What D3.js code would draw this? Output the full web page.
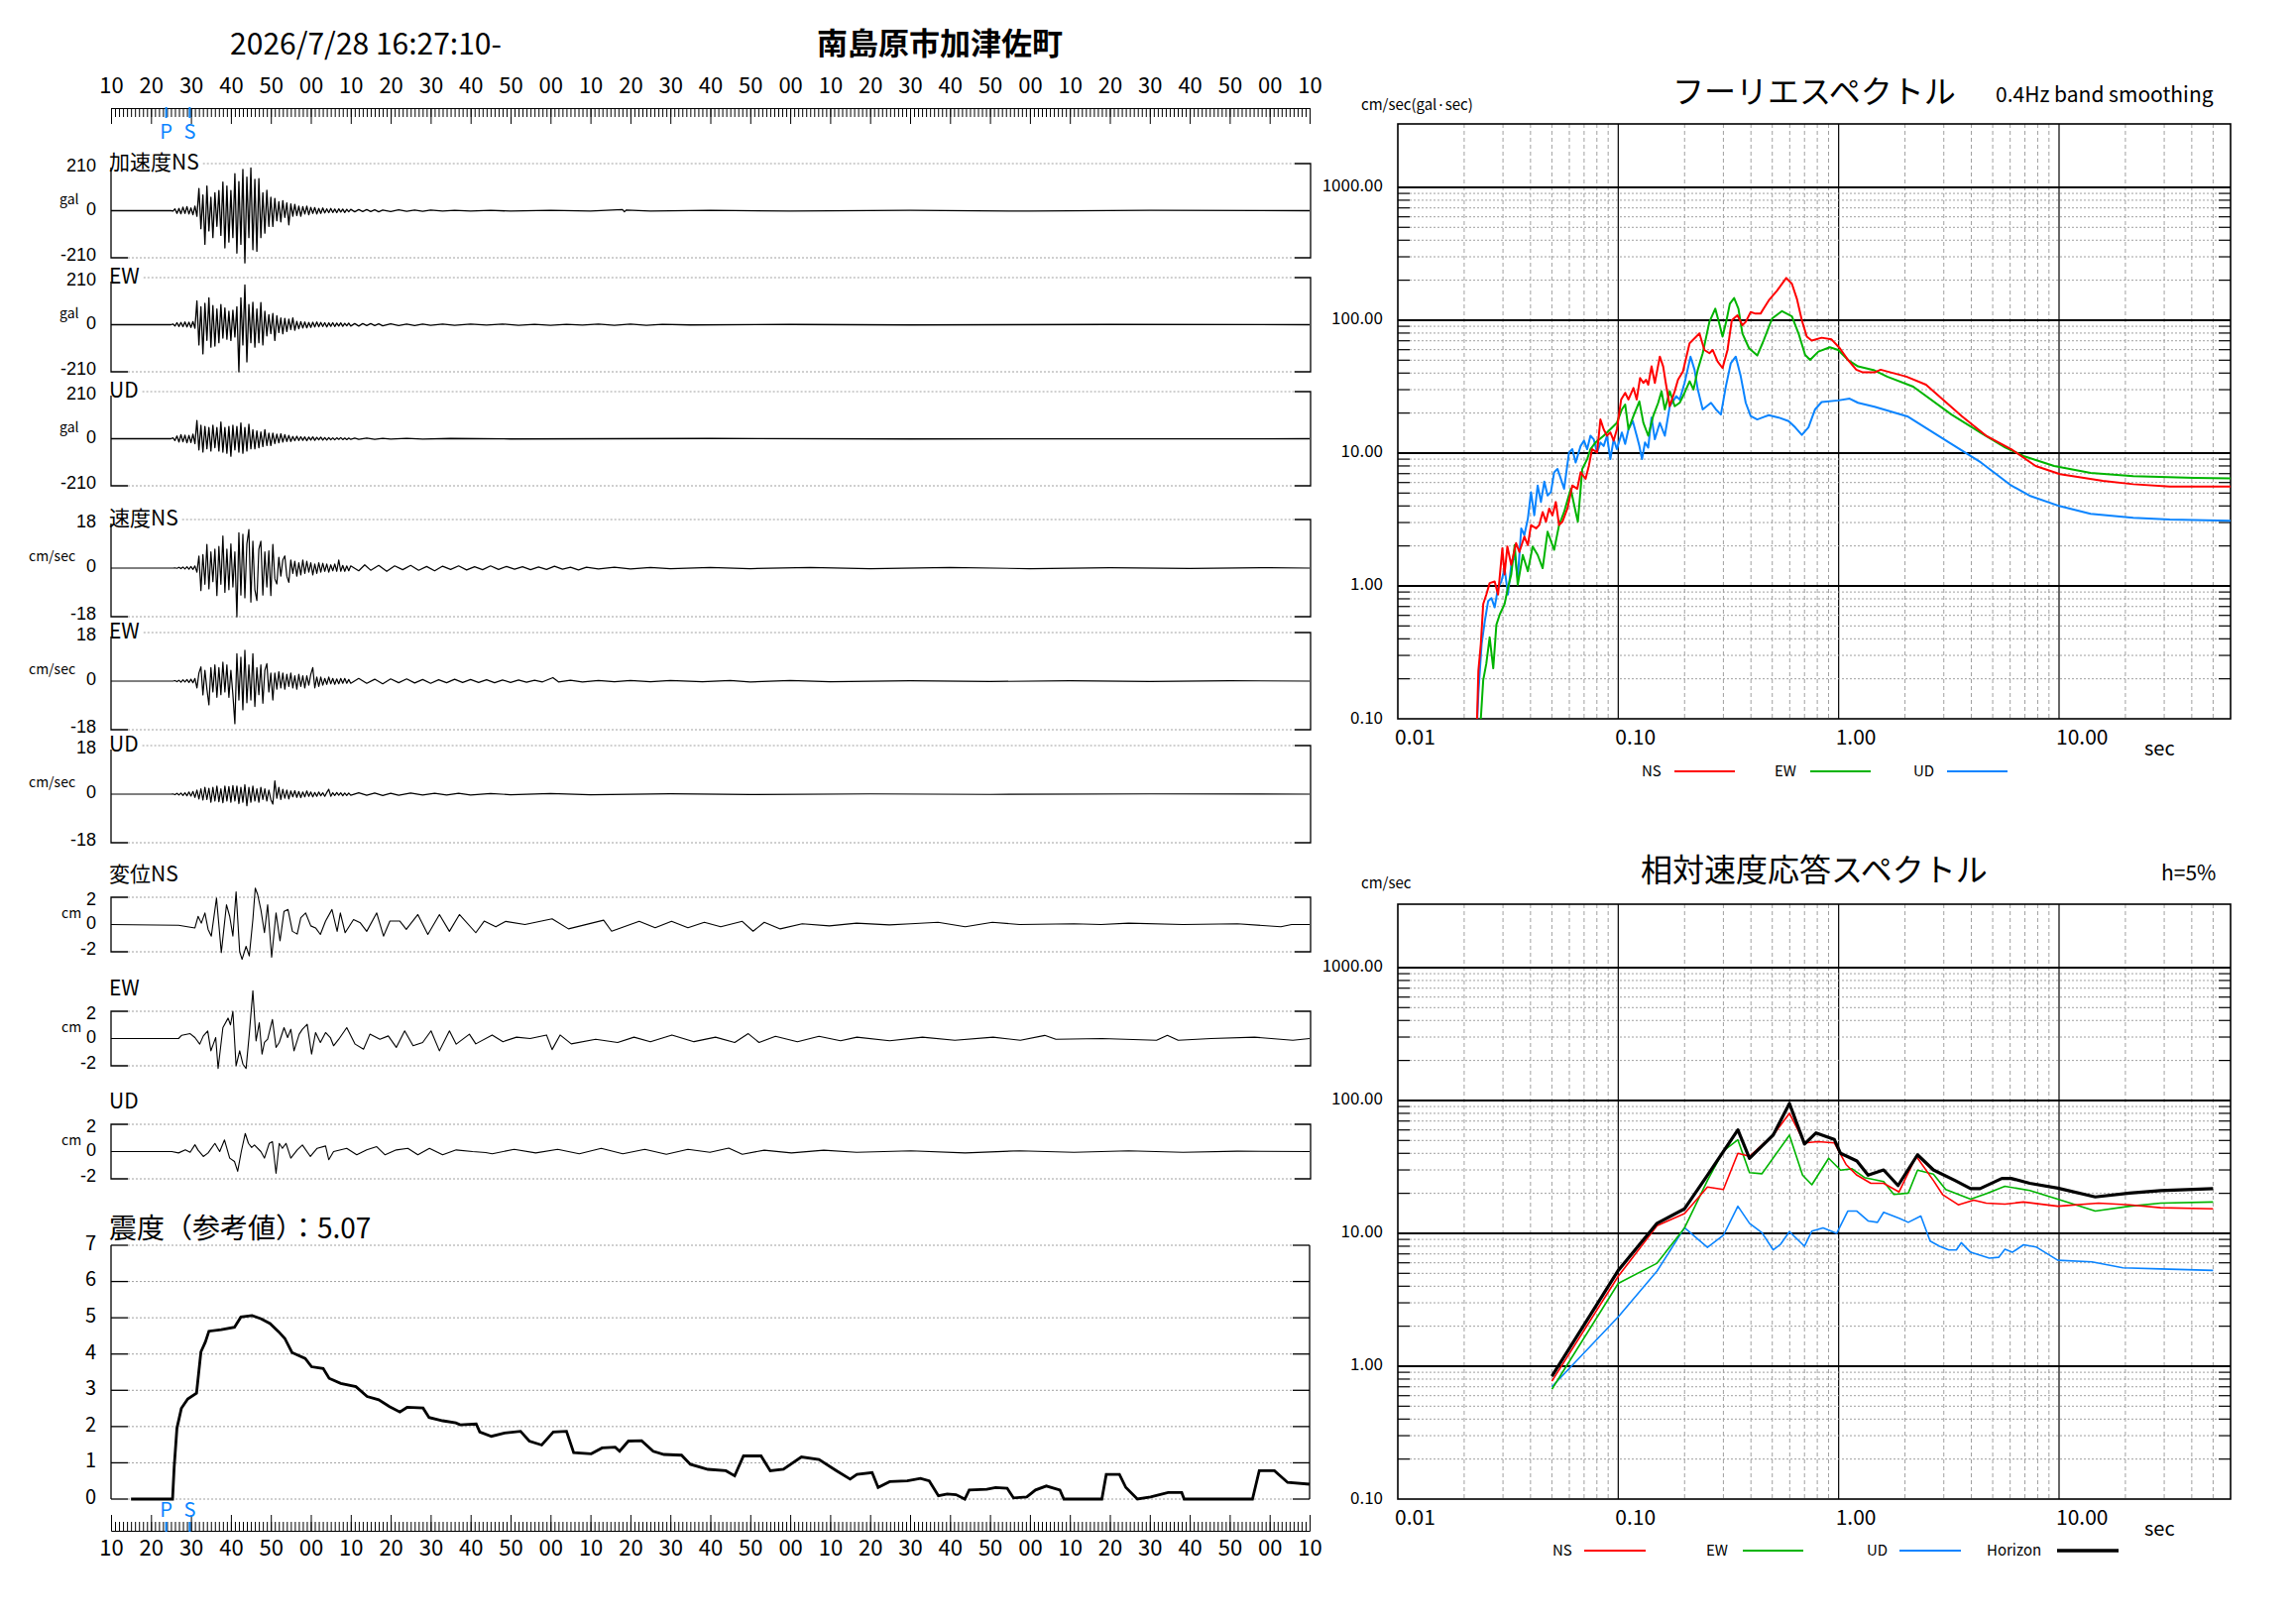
<!DOCTYPE html>
<html>
<head>
<meta charset="utf-8">
<script src="https://cdn.jsdelivr.net/npm/d3@7"></script>
<style>
  body { margin: 0; background: #fff; }
  svg { display: block; font-family: "Noto Sans CJK JP", "Noto Sans", sans-serif; }
</style>
</head>
<body>
<svg id="chart" width="2316" height="1637"></svg>
<script>
// ---------------- data ----------------
var titleTime = "2026/7/28 16:27:10-";
var stationName = "南島原市加津佐町";
var intensityTitle = "震度（参考値）：5.07";

var timeLabels = ["10","20","30","40","50","00","10","20","30","40","50","00","10","20","30","40","50","00",
                  "10","20","30","40","50","00","10","20","30","40","50","00","10"];
var phaseNames = ["P", "S"];
var phaseTimes = [13.8, 19.7];   // seconds after 16:27:10

// acceleration (gal), 0.5 s steps from t = 15 s to 60 s
var accNS = [0,-2,8,-12,10,-14,16,-12,18,-15,
  12,-18,20,-25,99,-80,70,-150,110,-90,
  60,-120,80,-70,90,-110,128,-166,110,-140,
  90,-120,165,-189,130,-150,184,-233,150,-120,
  190,-174,140,-181,143,-120,80,-100,91,-70,
  60,-70,55,-45,40,-50,45,-30,35,-63,
  30,-25,28,-22,20,-25,18,-15,20,-18,
  15,-12,14,-15,10,-12,12,-10,8,-9,
  10,-8,7,-9,8,-6,7,-8,6,-5,
  6];
var accEW = [0,3,-6,9,-8,10,-9,12,-10,11,
  -12,14,-16,106,-90,80,-130,95,-70,120,
  -100,85,-95,70,-80,90,-60,75,-65,60,
  -70,65,-55,80,-210,120,-90,177,-166,90,
  -80,100,-100,70,-80,99,-90,60,-50,45,
  -40,50,-70,40,-35,30,-40,28,-30,25,
  -22,30,-25,15,-18,14,-15,12,-14,10,
  -12,11,-10,12,-9,10,-8,9,-10,8,
  -7,9,-8,7,-6,8,-7,6,-5,7,
  -6];
var accUD = [0,4,-8,12,-15,18,-14,16,-18,15,
  -17,20,-22,81,-50,60,-59,55,-45,50,
  -55,60,-40,50,-55,74,-60,50,-65,55,
  -78,60,-50,55,-60,70,-65,50,-55,65,
  -45,40,-45,35,-40,30,-35,40,-30,25,
  -30,25,-22,20,-18,22,-15,18,-12,15,
  -12,10,-9,11,-8,9,-7,8,-9,7,
  -6,8,-7,6,-5,7,-6,5,-6,5,
  -5,4,-5,4,-3,5,-4,3,-4,3,
  -3];
// acceleration after 60 s: [t, gal]
var accNSTail = [[61,-5],[62,5],[63,-4],[64,5],[65,-4],[66,4],[67,-5],[68,3],[70,-4],[72,4],[74,-3],[76,3],[78,-3],[80,3],
  [83,-2],[86,2],[90,-2],[95,2],[100,-2],[110,2],[120,-2],[128,5],[128.5,-5],[129,3],[135,-2],[150,2],[170,-2],
  [200,2],[230,-2],[260,2],[300,0]];
var accEWTail = [[61,5],[62,-6],[63,5],[64,-4],[65,5],[66,-4],[67,4],[68,-5],[70,4],[72,-4],[74,3],[76,-4],[78,3],[80,-3],
  [83,3],[86,-3],[90,3],[94,-2],[98,3],[102,-3],[106,2],[110,-3],[114,2],[118,-2],[122,3],[126,-3],[130,3],[134,-3],
  [138,2],[145,-1],[170,1],[200,-1],[250,1],[300,0]];
var accUDTail = [[61,3],[62,-3],[64,3],[66,-3],[68,2],[70,-2],[74,2],[78,-2],[85,1],[100,-1],[150,1],[200,-1],[300,0]];

// velocity (cm/sec), 0.5 s steps from t = 15 s to 60 s
var velNS = [0,0,0.1,-0.1,0.3,-0.2,0.4,-0.3,0.5,-0.4,
  0.6,-0.5,0.8,-1.5,4.5,-8.3,5,-6,8.8,-7.7,
  6,-5,7,-10.2,8,-6,11.9,-9,7,-8,
  9,-7,6,-18.1,13.1,-10,12.5,-11,9,14.3,
  -12.6,10,-8,-12,7,10,-10,6,-7,6.4,
  -10.2,8.8,-4,-5.9,4,-3,3,4.5,-3,-5.3,
  3,-2,2.5,-3,2,-2.5,3,-2,2.5,-1.5,
  2,-2.5,1.5,-2,2,-1.5,1.8,-1.2,1.5,-1.5,
  1.2,-1,1.5,-1.2,3,-1.2,1,-1.2,0.8,-1,
  0.8];
var velEW = [0,0,0.2,-0.2,0.3,-0.4,0.5,-0.3,0.6,-0.5,
  0.7,-0.6,1,-2.5,3,5.3,-5.1,4,-3,-8.8,
  5,-4,6,-6,5,-5,7,-4,6,-6,
  4,-5,-15.8,10.2,-7,8.9,-10.6,11.4,-8,6,
  -7,10.2,-9.4,5,-5,6,-8.2,4,6.5,-4,
  3,-7,3,-3,3.5,-2.5,3,-3,2.5,-2,
  3,-2.5,2,-3,2.5,-2,2,-2.5,2,-1.5,
  2.5,5,-2.5,1.5,-2,1.5,-1.5,1,-1.2,1.5,
  -1,1,-1.2,0.8,-1,1,-0.8,1,-0.8,0.6,
  -0.8];
var velUD = [0,0.1,-0.2,0.3,-0.3,0.4,-0.5,0.5,-0.6,0.8,
  -0.7,1,-1.2,1.5,-1.8,2,-2.2,2.5,-2,2.2,
  -3,2.5,-2.5,3,-2.8,2,-3.2,3,-2.5,2.8,
  -3,3.2,-2.5,3,-3.5,2.5,-3,3.5,-4.3,2.5,
  -3,3,-2.5,2,-3,2.5,-2,2,-2.5,1.5,
  -2,-3.7,4.9,-1.5,2.5,-2,1.8,-1.5,1.5,-1.8,
  1.2,-1,1.3,-1.2,1,-1.3,0.8,-1,1.2,-0.8,
  0.8,-1,0.6,-0.8,0.8,-0.6,0.5,-0.8,0.6,1.8,
  -0.8,0.5,-0.5,0.6,-0.4,0.5,-0.6,0.4,-0.5,0.4,
  -0.4];
var velNSTail = [[62,-1],[63.5,1.2],[65,-0.8],[67,1],[69,-1.2],[71,0.8],[73,-0.6],[75,1],[77,-0.8],[79,0.6],[81,-1],
  [83,0.7],[85,-0.5],[87,0.8],[89,-0.7],[91,0.5],[93,-0.6],[95,0.8],[97,-0.5],[99,0.6],[101,-0.4],[103,0.5],
  [105,-0.6],[107,0.4],[109,-0.5],[111,0.7],[113,-0.4],[115,0.3],[117,-0.7],[119,0.3],[122,-0.3],[126,0.3],
  [130,-0.3],[135,0.2],[140,-0.2],[150,0.2],[160,-0.2],[175,0.2],[190,-0.2],[210,0.2],[230,-0.2],[250,0.15],
  [270,-0.15],[290,0.15],[300,0]];
var velEWTail = [[62,1],[64,-0.8],[66,0.7],[68,-1],[70,0.8],[72,-0.6],[74,0.8],[76,-0.7],[78,0.6],[80,-0.8],[82,0.5],
  [84,-0.6],[86,0.7],[88,-0.5],[90,0.6],[92,-0.5],[94,0.5],[96,-0.6],[98,0.4],[100,-0.5],[102,0.4],[104,-0.4],
  [106,0.3],[108,-0.3],[110.6,1.3],[112,-0.3],[115,0.3],[118,-0.3],[122,0.2],[126,-0.2],[130,0.2],[135,-0.2],
  [140,0.2],[148,-0.2],[155,0.2],[160,-0.3],[170,0.2],[180,-0.2],[200,0.15],[220,-0.15],[240,0.15],[260,-0.15],
  [280,0.15],[300,0]];
var velUDTail = [[62,0.5],[64,-0.4],[66,0.4],[68,-0.5],[70,0.3],[72,-0.4],[75,0.4],[78,-0.3],[81,0.3],[84,-0.3],
  [87,0.3],[90,-0.3],[95,0.2],[100,-0.2],[110,0.2],[120,-0.2],[140,0.15],[160,-0.15],[190,0.1],[220,-0.1],
  [260,0.1],[300,0]];

// displacement (cm): [t, cm]
var dispNS = [[0,0],[16.9,-0.05],[21,-0.25],[21.8,0.6],[22.6,0.1],[23.5,0.85],[24.3,-0.36],[25.1,-0.85],[26.4,1.94],
  [27.6,-2.06],[28.9,1.45],[29.7,0.6],[30.5,-0.85],[31.3,2.4],[32.2,-2.0],[32.8,-2.55],[33.8,-1.6],[34.6,-2.3],
  [35.5,0.36],[36.1,2.67],[36.7,2.2],[37.5,1.1],[38.4,-0.6],[39.2,1.45],[40.2,-2.4],[41.3,0.85],[42.3,-1.2],
  [43.3,0.97],[44.3,1.1],[45.4,-0.5],[46.6,-0.7],[47.5,0.5],[48.7,0.85],[50,-0.1],[51.2,-0.25],[52.4,-0.73],
  [53.7,0.25],[55.3,1.1],[56.6,-0.5],[57.4,0.85],[58.6,-0.6],[60.7,0.36],[62.4,0.12],[64,-0.5],[66.5,0.85],
  [68.2,-0.85],[69.8,0.25],[72.3,0.25],[73.9,-0.36],[76.8,0.73],[79.3,-0.73],[82.2,0.73],[84.7,-0.5],[87.2,0.73],
  [91.3,-0.6],[93.4,0.25],[96.3,-0.17],[98.8,0.23],[103.6,0],[110.4,0.42],[114.5,-0.32],[123.3,0.32],[125.3,-0.49],
  [132.2,0.23],[136.2,-0.23],[140.3,0.23],[144.4,-0.23],[148.5,0.16],[152.6,-0.16],[158,0.23],[160.7,-0.49],
  [163.5,0.16],[167.5,-0.32],[173,0.06],[179.8,-0.1],[186.6,0.1],[194.8,-0.03],[200.2,0.06],[207,0.16],
  [213.8,-0.16],[220.6,0.16],[227.4,0],[241,0.06],[247.8,0],[254.7,0.1],[268.3,0],[281.9,0.06],[292.8,-0.16],
  [295.5,0],[300,0]];
var dispEW = [[0,0],[16.9,0],[17.7,0.24],[19.8,0.36],[21,0.07],[22.2,-0.41],[23.1,0.19],[24.2,0.56],[25,-0.9],
  [25.6,-0.41],[26.2,0.07],[26.8,-2.2],[28,0.8],[29.3,1.5],[29.9,1.0],[30.5,2.0],[31.3,-2.0],[32.2,-0.9],[33,-1.87],
  [33.8,-2.2],[34.6,0.32],[35.5,3.5],[36.3,-0.17],[37.1,1.16],[37.8,-1.14],[38.4,-0.29],[39.2,-0.05],[40.4,1.4],
  [41.3,-0.65],[42.1,-0.29],[43.3,0.8],[44.2,0.07],[45,0.68],[45.8,-0.9],[47.1,0.32],[47.9,0.68],[49.1,1.04],
  [50.2,-1.14],[51.2,0.44],[52.4,-0.29],[53.7,0.44],[54.9,0.07],[55.7,-0.53],[57,-0.05],[59,0.8],[61.1,-0.41],
  [63.2,-0.78],[64.8,0.32],[67.3,-0.05],[69.4,0.19],[71.4,-0.65],[73.5,0.56],[75.6,-0.53],[78,-0.29],[80.1,0.56],
  [82.2,-0.9],[84.7,0.56],[86.4,-0.41],[89.7,0.32],[91.3,-0.39],[95.4,0.26],[98.1,-0.23],[101.5,0.1],[104.9,0],
  [109,0.26],[110.4,-0.81],[112.4,0.26],[115.2,-0.39],[121.3,-0.06],[126.8,-0.29],[130.9,0.1],[135,-0.23],
  [140.4,0.26],[145.9,-0.23],[151.3,0.1],[156.1,-0.29],[159.5,0.36],[162.2,-0.29],[166.3,0.16],[171.8,-0.23],
  [177.2,0.16],[182.6,-0.16],[186.7,0.1],[194.9,-0.16],[203.1,0.1],[211.2,-0.13],[220.8,0.1],[227.6,-0.13],
  [233.7,0.23],[236.5,-0.06],[248,0],[261.7,-0.13],[264.4,0.23],[267.1,-0.13],[275.3,0],[286.2,0.1],[295.8,-0.13],
  [300,0]];
var dispUD = [[0,0],[15.2,0],[16.9,-0.1],[18.6,0.12],[19.8,-0.05],[21,0.5],[21.8,0.1],[23.1,-0.36],[24.3,-0.1],
  [26,0.6],[27.2,0],[28.4,0.85],[29.7,-0.48],[30.9,-0.73],[31.7,-1.45],[32.6,0],[33.6,1.33],[34.4,0.6],[35.2,0.3],
  [35.9,0.48],[37.5,0],[38.4,-0.48],[39.6,0.6],[40.4,0.73],[41.3,-1.6],[42.1,0.6],[42.9,0.24],[43.8,0.6],
  [45,-0.48],[46.6,0.12],[47.9,0.48],[49.9,-0.36],[51.6,0.24],[53.7,0.41],[54.5,-0.6],[55.7,0],[59,0.24],
  [61.5,-0.24],[64,0.12],[66.5,0.36],[68.6,-0.24],[71.4,0.12],[74.3,0.24],[76.8,-0.24],[79.7,0.24],[83,-0.24],
  [86.4,0.12],[90.5,0],[93.8,-0.07],[95.4,-0.16],[100.9,0.16],[106.3,-0.1],[111.8,0.16],[117.2,-0.16],[122.7,0.23],
  [128.1,-0.16],[133.6,0.16],[139,-0.2],[144.4,0.16],[149.9,-0.06],[154.6,0.26],[158,-0.2],[163.5,0.1],
  [170.3,-0.1],[178.4,0.1],[186.6,-0.06],[200.2,0.06],[213.8,-0.1],[227.4,0.06],[241,-0.06],[254.7,0.06],
  [268.3,-0.06],[281.9,0.03],[300,0]];

var accTicks = [210, 0, -210];
var velTicks = [18, 0, -18];
var dispTicks = [2, 0, -2];

// seismic intensity (reference value): [t, intensity]
var intensity = [[5,0],[15.4,0],[15.8,0.87],[16.5,1.96],[17.6,2.5],[19.2,2.76],[21.4,2.92],[22.5,4.06],[23.6,4.33],
  [24.5,4.63],[27.6,4.67],[30.9,4.74],[32.5,5.02],[35.3,5.06],[37.6,4.97],[39.8,4.84],[42,4.61],[43.5,4.43],
  [45.3,4.04],[48.6,3.88],[50.2,3.65],[53.1,3.6],[54.6,3.33],[57.5,3.19],[61.3,3.1],[64.1,2.83],[67,2.74],
  [69.7,2.55],[72.3,2.4],[74.1,2.53],[78.1,2.51],[79.6,2.25],[83,2.16],[86.3,2.1],[87.4,2.05],[91.4,2.07],
  [92.3,1.85],[95.2,1.73],[98.5,1.82],[102.5,1.87],[104.7,1.6],[107.8,1.49],[110.7,1.85],[114,1.87],[115.8,1.28],
  [120.2,1.25],[122.9,1.41],[126.2,1.43],[127.3,1.32],[129.5,1.6],[132.8,1.61],[135.7,1.32],[138.4,1.23],
  [142.8,1.21],[145,0.96],[149.4,0.82],[153.9,0.78],[156.1,0.64],[158.3,1.19],[162.7,1.19],[165,0.78],
  [168.3,0.82],[172.8,1.16],[177.2,1.09],[181.6,0.78],[185,0.55],[186.7,0.68],[190.5,0.73],[192,0.32],
  [194.9,0.48],[199.3,0.5],[202.6,0.57],[204.8,0.5],[207.1,0.09],[209.3,0.14],[211.5,0.12],[213.7,0],[214.8,0.25],
  [219.2,0.27],[221.4,0.32],[224.3,0.3],[225.9,0.03],[229.2,0.06],[231.4,0.25],[234.1,0.36],[237.5,0.25],
  [238.5,0],[248,0],[249.1,0.68],[252.4,0.68],[254,0.32],[256.9,0],[260.2,0.06],[262.4,0.12],[264.6,0.18],
  [268,0.18],[268.6,0],[285.7,0],[287.4,0.78],[291.2,0.78],[294.5,0.46],[300,0.41]];
var intensityTicks = [0, 1, 2, 3, 4, 5, 6, 7];

// Fourier spectrum: [period sec, cm/sec]
var fourierNS = [[0.0228,0.08],[0.0232,0.23],[0.0238,0.365],[0.0244,0.73],[0.0252,0.86],[0.0261,1.05],[0.0275,1.08],
  [0.0285,0.86],[0.0298,1.92],[0.0305,1.22],[0.0314,1.98],[0.0327,1.44],[0.0344,2.1],[0.0356,1.8],[0.0375,2.35],
  [0.0389,2.03],[0.0402,2.87],[0.0424,2.71],[0.0438,2.87],[0.0454,3.6],[0.0470,3.04],[0.0486,3.82],[0.0503,3.4],
  [0.0521,4.28],[0.0539,2.87],[0.0558,3.04],[0.0588,3.82],[0.0619,5.7],[0.0652,5.38],[0.0675,7.17],[0.0711,6.4],
  [0.0736,8.04],[0.0761,10.7],[0.0802,10.1],[0.0830,17.9],[0.0859,15.1],[0.0889,13.5],[0.0921,14.3],[0.0953,12.4],
  [0.0986,15.1],[0.1031,25.3],[0.1075,28.4],[0.1113,25.3],[0.1172,30.9],[0.1213,25.3],[0.1256,36.7],[0.1300,33.7],
  [0.1336,35.6],[0.1368,32.7],[0.1416,44.9],[0.1466,33.7],[0.1544,53.2],[0.1599,44.9],[0.1643,33.7],[0.1713,22.5],
  [0.1804,29.2],[0.1867,35.6],[0.1966,41.1],[0.2107,67],[0.2219,73],[0.2336,79.5],[0.2460,59.7],[0.2592,56.4],
  [0.2682,59.7],[0.2824,48.9],[0.2974,43.6],[0.3132,59.7],[0.3276,100],[0.3474,109],[0.3659,91.8],[0.3788,97.2],
  [0.3989,115],[0.4200,112],[0.4422,112],[0.4821,141],[0.5256,167],[0.5786,208],[0.6138,188],[0.6464,145],
  [0.6808,100],[0.7169,75.2],[0.7551,70.2],[0.8372,73.8],[0.9286,71.7],[1.012,61.5],[1.103,50.2],[1.202,42.4],
  [1.289,40.5],[1.454,40.5],[1.55,42.4],[2.03,37.6],[2.49,32.7],[3.63,18.9],[4.7,13.4],[6.07,10.7],[7.83,8],
  [10.1,6.93],[15.8,6.18],[21.7,5.83],[31.8,5.6],[60,5.6]];
var fourierEW = [[0.0236,0.08],[0.0244,0.195],[0.0252,0.26],[0.0261,0.41],[0.0271,0.24],[0.0280,0.51],[0.0290,0.61],
  [0.0305,0.73],[0.0316,0.97],[0.0327,1.22],[0.0339,2.03],[0.0350,1.02],[0.0369,1.71],[0.0389,1.29],[0.0409,1.98],
  [0.0431,1.71],[0.0454,1.36],[0.0478,2.56],[0.0512,1.87],[0.0539,2.87],[0.0568,3.6],[0.0609,5.38],[0.0641,3.6],
  [0.0656,3.04],[0.0687,7.6],[0.0723,9.0],[0.0748,10.7],[0.0788,12],[0.0859,13.5],[0.0921,15.1],[0.0986,16.9],
  [0.1039,21.3],[0.1075,23.2],[0.1113,15.1],[0.1172,19],[0.1247,24.5],[0.1300,16.9],[0.1368,13.5],[0.1441,19],
  [0.1518,23.9],[0.1572,29.2],[0.1627,21.3],[0.1713,29.2],[0.1804,22.5],[0.1900,23.9],[0.2000,28.4],[0.2107,34.7],
  [0.2196,30.1],[0.2296,42.4],[0.2417,56.4],[0.2592,97.2],[0.2756,122],[0.2873,94.4],[0.2974,75.2],[0.3100,100],
  [0.3209,133],[0.3356,147],[0.3510,122],[0.3659,79.5],[0.3921,61.5],[0.4273,54.2],[0.4577,70.9],[0.4991,103],
  [0.5535,117],[0.6138,107],[0.6577,79.5],[0.7048,54.8],[0.7422,50.2],[0.8091,58],[0.9126,62.5],[0.9949,59.7],
  [1.103,50.2],[1.224,44.9],[1.454,41.9],[1.66,37.6],[2.18,31.6],[3.25,19.5],[4.42,14.2],[5.7,11],[6.9,9.5],
  [9.5,8],[13.9,7.1],[21.7,6.7],[41.1,6.5],[60,6.45]];
var fourierUD = [[0.0228,0.08],[0.0232,0.155],[0.0236,0.24],[0.0240,0.365],[0.0248,0.54],[0.0257,0.77],[0.0266,0.81],
  [0.0275,0.69],[0.0285,0.97],[0.0295,1.08],[0.0305,1.36],[0.0316,0.86],[0.0327,1.44],[0.0339,1.71],[0.0350,1.14],
  [0.0363,2.71],[0.0375,2.41],[0.0389,3.21],[0.0402,5.08],[0.0416,3.4],[0.0431,5.7],[0.0446,4.28],[0.0462,6.1],
  [0.0478,4.8],[0.0495,5.08],[0.0512,7.17],[0.0530,7.6],[0.0549,6.4],[0.0568,5.38],[0.0598,10.1],[0.0619,10.7],
  [0.0641,8.5],[0.0675,11.3],[0.0699,12.4],[0.0723,10.7],[0.0748,13.5],[0.0774,12.7],[0.0802,10.1],[0.0830,12],
  [0.0859,11.3],[0.0889,13.5],[0.0921,9.0],[0.0953,12.7],[0.0986,10.7],[0.1039,14.3],[0.1075,11.7],[0.1113,15.1],
  [0.1164,17.4],[0.1213,13.5],[0.1247,11.3],[0.1282,9.0],[0.1322,12],[0.1368,11],[0.1416,18.5],[0.1466,12.7],
  [0.1544,16.9],[0.1627,13.5],[0.1713,22.5],[0.1835,26.8],[0.1900,25.3],[0.2000,33.7],[0.2128,53.2],[0.2219,42.4],
  [0.2296,30.1],[0.2417,21.3],[0.2636,23.9],[0.2775,21.3],[0.2923,19.5],[0.3079,31.8],[0.3242,47.5],[0.3414,53.2],
  [0.3596,37.8],[0.3788,23.9],[0.3989,19],[0.4273,17.9],[0.4821,19.3],[0.5347,18.5],[0.5929,17.4],[0.6353,15.6],
  [0.6808,13.7],[0.7295,15.6],[0.7816,21.3],[0.8372,24.2],[0.9949,24.9],[1.122,25.7],[1.224,23.9],[1.454,22.3],
  [2.05,18.9],[3.2,11.9],[4.42,8.5],[6.07,5.7],[7.35,4.78],[10.1,3.98],[13.9,3.49],[21.7,3.26],[31.8,3.16],[60,3.1]];

// relative velocity response spectrum (h=5%)
var rsPeriodNS = [0.05,0.1,0.15,0.2,0.254,0.3,0.349,0.394,0.505,0.598,0.70,0.807,0.955,1.08,1.21,1.40,1.60,1.88,
  2.25,2.69,2.96,3.49,4.10,4.67,5.68,6.90,9.87,15.1,20.9,28.9,50];
var rsNS = [0.77,4.75,11.4,14.1,22.3,21.4,40,38,55,80,48,49,48,33,27.4,23.8,23.8,20.5,38,25,19.6,16.4,17.8,16.9,
  16.6,17.2,16,16.9,16.4,15.6,15.3];
var rsPeriodEW = [0.05,0.1,0.15,0.2,0.254,0.3,0.349,0.394,0.449,0.598,0.686,0.756,0.901,1.02,1.15,1.31,1.60,1.78,
  2.07,2.28,2.69,3.06,3.97,4.67,5.68,7.36,9.87,14.6,20.9,28.9,50];
var rsEW = [0.67,4.2,5.96,11,25,41.7,50.5,28.6,28.1,54.8,27.4,23.2,36.7,29.9,30.6,26.3,24.5,19.6,20.1,29.9,27.9,
  21.4,18.1,19.9,22.6,21,18.1,14.7,16,16.9,17.2];
var rsPeriodUD = [0.05,0.1,0.15,0.2,0.254,0.3,0.349,0.394,0.449,0.505,0.546,0.598,0.70,0.756,0.85,0.98,1.10,1.21,
  1.36,1.50,1.60,1.88,2.07,2.36,2.60,2.87,3.16,3.42,3.60,3.97,4.83,5.32,5.68,6.14,6.90,7.86,9.87,14.1,19.5,28.9,50];
var rsUD = [0.70,2.35,5.2,11,7.85,9.66,16,11.9,10.1,7.5,8.3,10.3,8,10.4,11,10,14.7,14.7,12.4,12.1,14.4,13,12.1,
  13.5,8.75,8,7.5,7.5,8.5,7.2,6.5,6.6,7.6,7.2,8.2,7.9,6.27,6.1,5.5,5.4,5.26];
var rsPeriodH = [0.05,0.1,0.15,0.2,0.254,0.349,0.394,0.505,0.598,0.70,0.79,0.955,1.02,1.21,1.36,1.60,1.86,2.28,
  2.69,3.37,3.97,4.38,5.50,6.06,7.36,9.87,14.6,20.9,28.9,50];
var rsH = [0.84,5.26,11.9,15.3,27.4,60,36.7,55,95,47,57,51,40,35,27.4,30,22.9,39,30,25,21.7,21.7,25.9,25.9,23.8,
  21.9,18.8,20.1,21,21.7];

var specYTicks = [1000, 100, 10, 1, 0.1];
var specYLabels = ["1000.00", "100.00", "10.00", "1.00", "0.10"];
var specXTicks = [0.01, 0.1, 1, 10];
var specXLabels = ["0.01", "0.10", "1.00", "10.00"];

// ---------------- drawing ----------------
var svg = d3.select("#chart");
var FONT = '"Noto Sans CJK JP","Noto Sans",sans-serif';
var NUMFONT = '"Liberation Sans","Noto Sans",sans-serif';
var red = "#ff0000", green = "#00b400", blue = "#0a84ff", gridGray = "#a0a0a0";

function addText(g, x, y, s, size, anchor, color, weight) {
  return g.append("text")
    .attr("x", x).attr("y", y)
    .attr("font-size", size)
    .attr("text-anchor", anchor || "start")
    .attr("dominant-baseline", "central")
    .attr("fill", color || "#000")
    .attr("font-weight", weight || "normal")
    .text(s);
}
function hline(g, x1, x2, y, color, w, dash) {
  return g.append("line").attr("x1", x1).attr("x2", x2).attr("y1", y).attr("y2", y)
    .attr("stroke", color).attr("stroke-width", w).attr("stroke-dasharray", dash || null);
}
function vline(g, x, y1, y2, color, w, dash) {
  return g.append("line").attr("x1", x).attr("x2", x).attr("y1", y1).attr("y2", y2)
    .attr("stroke", color).attr("stroke-width", w).attr("stroke-dasharray", dash || null);
}

// headline
addText(svg, 369, 42, titleTime, 30, "middle");
addText(svg, 948, 41, stationName, 31, "middle", "#000", "bold");

var x = d3.scaleLinear().domain([0, 300]).range([112, 1321]);

// time rulers (top and bottom)
function ruler(y, dir) {
  var g = svg.append("g").attr("transform", "translate(0," + y + ")");
  var axisFn = dir > 0 ? d3.axisBottom : d3.axisTop;
  g.append("g").call(axisFn(x).tickValues(d3.range(0, 301, 1)).tickSize(9).tickSizeOuter(0).tickFormat(""));
  g.append("g").call(axisFn(x).tickValues(d3.range(0, 301, 10)).tickSize(16).tickSizeOuter(0).tickFormat(""));
  g.selectAll("path.domain").attr("stroke", "#000").attr("stroke-width", 1.2);
  g.selectAll(".tick line").attr("stroke", "#000").attr("stroke-width", 1);
  return g;
}
ruler(109, 1);
ruler(1544, -1);

function timeLabelAxis(y, top) {
  var ax = (top ? d3.axisTop(x) : d3.axisBottom(x))
    .tickValues(d3.range(0, 301, 10)).tickSize(0).tickPadding(0)
    .tickFormat(function (d, i) { return timeLabels[i]; });
  var g = svg.append("g").attr("transform", "translate(0," + y + ")").call(ax);
  g.select("path.domain").remove();
  g.selectAll("text").attr("font-size", 22).attr("fill", "#000").attr("font-family", FONT);
}
timeLabelAxis(94, true);
timeLabelAxis(1553, false);

// P / S markers
phaseTimes.forEach(function (t, i) {
  vline(svg, x(t), 108, 119, blue, 2);
  addText(svg, x(t), 131, phaseNames[i], 20, "middle", blue);
  vline(svg, x(t), 1535, 1545, blue, 2);
  addText(svg, x(t), 1521, phaseNames[i], 20, "middle", blue);
});

// waveform panels
function regularTrace(vals, tail) {
  var pts = [[0, 0]];
  vals.forEach(function (v, i) { pts.push([15 + i * 0.5, v]); });
  return pts.concat(tail);
}

var panels = [
  {name: "加速度NS", unit: "gal", ticks: accTicks, top: 165, h: 95, pts: regularTrace(accNS, accNSTail), lw: 1.3},
  {name: "EW", unit: "gal", ticks: accTicks, top: 280, h: 95, pts: regularTrace(accEW, accEWTail), lw: 1.3},
  {name: "UD", unit: "gal", ticks: accTicks, top: 395, h: 95, pts: regularTrace(accUD, accUDTail), lw: 1.3},
  {name: "速度NS", unit: "cm/sec", ticks: velTicks, top: 524, h: 98, pts: regularTrace(velNS, velNSTail), lw: 1.2},
  {name: "EW", unit: "cm/sec", ticks: velTicks, top: 638, h: 98, pts: regularTrace(velEW, velEWTail), lw: 1.2},
  {name: "UD", unit: "cm/sec", ticks: velTicks, top: 752, h: 98, pts: regularTrace(velUD, velUDTail), lw: 1.2},
  {name: "変位NS", unit: "cm", ticks: dispTicks, top: 905, h: 55, pts: dispNS, lw: 1.1, disp: true},
  {name: "EW", unit: "cm", ticks: dispTicks, top: 1020, h: 55, pts: dispEW, lw: 1.1, disp: true},
  {name: "UD", unit: "cm", ticks: dispTicks, top: 1134, h: 55, pts: dispUD, lw: 1.1, disp: true}
];

panels.forEach(function (p) {
  var g = svg.append("g");
  var bottom = p.top + p.h;
  var y = d3.scaleLinear().domain([-p.ticks[0], p.ticks[0]]).range([bottom, p.top]);
  var zero = y(0);

  // label
  var lab = addText(g, 110, p.disp ? p.top - 25 : p.top - 3, p.name, 21, "start");
  var labEnd = p.disp ? 129 : 110 + lab.node().getComputedTextLength() + 4;

  // dotted limits
  hline(g, labEnd, 1306, p.top, gridGray, 1, "2,2");
  hline(g, 129, 1306, bottom, gridGray, 1, "2,2");
  // frame pieces
  var left = p.disp ? "M129," + p.top + "H112V" + bottom + "H129" : "M112," + (p.top + 4) + "V" + bottom + "H129";
  g.append("path").attr("d", left).attr("fill", "none").attr("stroke", "#000").attr("stroke-width", 1.3);
  g.append("path").attr("d", "M1306," + p.top + "H1322V" + bottom + "H1306")
    .attr("fill", "none").attr("stroke", "#000").attr("stroke-width", 1.3);

  // value labels (plain hyphen minus as in the source); limits nudged apart so stacked panels don't collide
  var offs = [2, -2, -3];
  p.ticks.forEach(function (v, i) {
    addText(g, 97, y(v) + offs[i], String(v), 18, "end").attr("font-family", NUMFONT);
  });
  addText(g, p.unit === "cm/sec" ? 29 : (p.unit === "gal" ? 60 : 62), zero - 13, p.unit, 14, "start");

  // trace
  var line = d3.line().x(function (d) { return x(d[0]); }).y(function (d) { return y(d[1]); });
  g.append("path").datum(p.pts).attr("d", line)
    .attr("fill", "none").attr("stroke", "#000").attr("stroke-width", p.lw).attr("stroke-linejoin", "round");
});

// intensity panel
(function () {
  var g = svg.append("g");
  var yI = d3.scaleLinear().domain([0, 7]).range([1512, 1256]);
  addText(g, 110, 1237, intensityTitle, 28, "start");
  intensityTicks.forEach(function (v) {
    hline(g, 129, 1304, yI(v), gridGray, 1, "2,2");
    hline(g, 112, 129, yI(v), "#000", 1.3);
    hline(g, 1304, 1321, yI(v), "#000", 1.3);
  });
  vline(g, 112, yI(7), yI(0), "#000", 1.3);
  vline(g, 1321, yI(7), yI(0), "#000", 1.3);
  var ax = d3.axisLeft(yI).tickValues(intensityTicks).tickSize(0).tickPadding(15).tickFormat(String);
  var ag = g.append("g").attr("transform", "translate(112,-2)").call(ax);
  ag.select("path.domain").remove();
  ag.selectAll("text").attr("font-size", 20).attr("fill", "#000").attr("font-family", FONT);
  var line = d3.line().x(function (d) { return x(d[0]); }).y(function (d) { return yI(d[1]); });
  g.append("path").datum(intensity).attr("d", line)
    .attr("fill", "none").attr("stroke", "#000").attr("stroke-width", 2.8).attr("stroke-linejoin", "miter");
})();

// spectrum panels
var sx = d3.scaleLog().domain([0.01, 60]).range([1410, 2250]);

function spectrumPanel(o) {
  var g = svg.append("g");
  var L = 1410, R = 2250, T = o.top, B = o.top + 600;
  var sy = d3.scaleLog().domain([0.1, 3000]).range([B, T]);

  addText(g, 1830, o.titleY, o.title, 32, "middle");
  addText(g, o.noteX, o.titleY + 4, o.note, 21, "start");
  addText(g, 1373, o.unitY, o.unit, 15, "start");

  // vertical grid
  [0.01, 0.1, 1, 10].forEach(function (d) {
    d3.range(2, 10).forEach(function (m) {
      var v = d * m;
      if (v < 60) vline(g, sx(v), T, B, gridGray, 1, "4,3");
    });
  });
  [0.1, 1, 10].forEach(function (v) { vline(g, sx(v), T, B, "#000", 1.2); });
  // horizontal grid
  [0.1, 1, 10, 100].forEach(function (d) {
    d3.range(2, 10).forEach(function (m) {
      var yy = sy(d * m);
      hline(g, L + 12, R - 12, yy, gridGray, 1, "2,2");
      hline(g, L, L + 12, yy, "#000", 1.2);
      hline(g, R - 12, R, yy, "#000", 1.2);
    });
  });
  [1, 10, 100, 1000].forEach(function (v) { hline(g, L, R, sy(v), "#000", 2); });
  g.append("rect").attr("x", L).attr("y", T).attr("width", R - L).attr("height", B - T)
    .attr("fill", "none").attr("stroke", "#000").attr("stroke-width", 1.6);

  specYTicks.forEach(function (v, i) { addText(g, 1395, sy(v) - 3, specYLabels[i], 17, "end"); });
  specXTicks.forEach(function (v, i) { addText(g, sx(v) - 3, B + 17, specXLabels[i], 21, "start"); });
  addText(g, 2163, B + 28, "sec", 20, "start");

  var clipId = "clip" + T;
  g.append("clipPath").attr("id", clipId).append("rect")
    .attr("x", L).attr("y", T).attr("width", R - L).attr("height", B - T);
  var line = d3.line().x(function (d) { return sx(d[0]); }).y(function (d) { return sy(d[1]); });
  var cg = g.append("g").attr("clip-path", "url(#" + clipId + ")");
  o.series.forEach(function (s) {
    cg.append("path").datum(s.pts).attr("d", line)
      .attr("fill", "none").attr("stroke", s.color).attr("stroke-width", s.w).attr("stroke-linejoin", "round");
  });

  // legend
  o.legend.forEach(function (l) {
    addText(g, l.tx, B + o.legendDy, l.label, 15, "start");
    hline(g, l.x1, l.x2, B + o.legendDy + 2, l.color, l.w);
  });
}

function zipPairs(ps, vs) { return ps.map(function (p, i) { return [p, vs[i]]; }); }

spectrumPanel({
  top: 125, titleY: 90, title: "フーリエスペクトル", note: "0.4Hz band smoothing", noteX: 2013,
  unit: "cm/sec(gal·sec)", unitY: 104, legendDy: 51,
  series: [
    {pts: fourierUD, color: blue, w: 2},
    {pts: fourierEW, color: green, w: 2},
    {pts: fourierNS, color: red, w: 2}
  ],
  legend: [
    {label: "NS", tx: 1656, x1: 1689, x2: 1750, color: red, w: 2},
    {label: "EW", tx: 1790, x1: 1826, x2: 1887, color: green, w: 2},
    {label: "UD", tx: 1930, x1: 1964, x2: 2025, color: blue, w: 2}
  ]
});

spectrumPanel({
  top: 912, titleY: 875, title: "相対速度応答スペクトル", note: "h=5%", noteX: 2180,
  unit: "cm/sec", unitY: 889, legendDy: 50,
  series: [
    {pts: zipPairs(rsPeriodUD, rsUD), color: blue, w: 1.6},
    {pts: zipPairs(rsPeriodEW, rsEW), color: green, w: 1.6},
    {pts: zipPairs(rsPeriodNS, rsNS), color: red, w: 1.6},
    {pts: zipPairs(rsPeriodH, rsH), color: "#000", w: 3.2}
  ],
  legend: [
    {label: "NS", tx: 1566, x1: 1598, x2: 1660, color: red, w: 2},
    {label: "EW", tx: 1721, x1: 1758, x2: 1819, color: green, w: 2},
    {label: "UD", tx: 1883, x1: 1916, x2: 1978, color: blue, w: 2},
    {label: "Horizon", tx: 2004, x1: 2075, x2: 2137, color: "#000", w: 3.5}
  ]
});
</script>
</body>
</html>
